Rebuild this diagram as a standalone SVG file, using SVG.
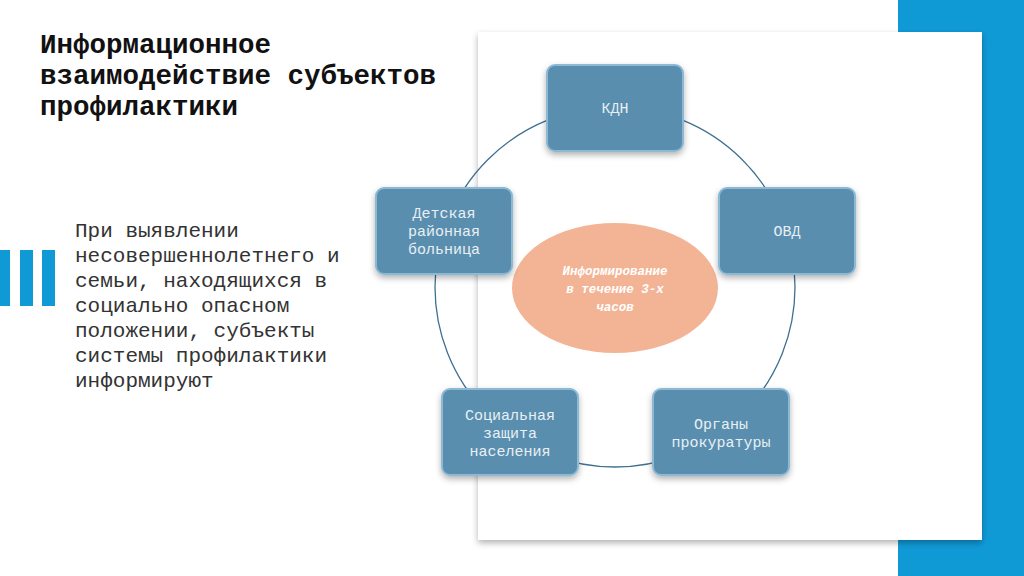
<svg xmlns="http://www.w3.org/2000/svg" width="1024" height="576" viewBox="0 0 1024 576">
<defs>
<filter id="sh" x="-20%" y="-20%" width="140%" height="140%"><feDropShadow dx="0" dy="3" stdDeviation="3" flood-color="#000" flood-opacity="0.3"/></filter>
<style>
.box{fill:#5a8eae;stroke:#8cbad5;stroke-width:2;filter:url(#sh)}
.bt{font-family:"Liberation Mono",monospace;font-size:15px;fill:#e8f0f5;text-anchor:middle}
.body{font-family:"Liberation Mono",monospace;font-size:21px;fill:#333}
</style>
</defs>
<rect width="1024" height="576" fill="#fff"/>
<rect x="898" y="0" width="126" height="576" fill="#0f9ad6"/>
<rect x="478" y="32" width="504" height="508" fill="#fff" filter="url(#sh)"/>
<g fill="#0f9ad6"><rect x="0" y="250" width="10" height="56"/><rect x="20" y="250" width="13" height="56"/><rect x="42" y="250" width="13" height="56"/></g>
<text font-family="Liberation Mono,monospace" font-weight="bold" font-size="27.5" fill="#111"><tspan x="40" y="53">Информационное</tspan><tspan x="40" y="84">взаимодействие  субъектов</tspan><tspan x="40" y="115">профилактики</tspan></text>
<text class="body"><tspan x="75" y="237">При выявлении</tspan><tspan x="75" y="262">несовершеннолетнего и</tspan><tspan x="75" y="287">семьи, находящихся в</tspan><tspan x="75" y="312">социально опасном</tspan><tspan x="75" y="337">положении, субъекты</tspan><tspan x="75" y="362">системы профилактики</tspan><tspan x="75" y="387">информируют</tspan></text>
<g id="connectors"><circle cx="615" cy="287" r="180" fill="none" stroke="#3f6f8f" stroke-width="1.3"/></g>
<g id="center"><ellipse cx="615" cy="288" rx="103" ry="65" fill="#f2b495"/>
<text font-family="Liberation Mono,monospace" font-style="italic" font-weight="bold" font-size="12.5" fill="#fff" text-anchor="middle"><tspan x="615" y="275">Информирование</tspan><tspan x="615" y="293">в течение 3-х</tspan><tspan x="615" y="311">часов</tspan></text></g>
<g id="kdn"><rect class="box" x="547" y="65" width="136" height="86" rx="8"/><text class="bt" x="615" y="113">КДН</text></g>
<g id="ovd"><rect class="box" x="719" y="188" width="136" height="86" rx="8"/><text class="bt" x="787" y="236">ОВД</text></g>
<g id="hosp"><rect class="box" x="376" y="188" width="136" height="86" rx="8"/><text class="bt"><tspan x="444" y="218">Детская</tspan><tspan x="444" y="236">районная</tspan><tspan x="444" y="254">больница</tspan></text></g>
<g id="soc"><rect class="box" x="442" y="389" width="136" height="86" rx="8"/><text class="bt"><tspan x="510" y="420">Социальная</tspan><tspan x="510" y="438">защита</tspan><tspan x="510" y="456">населения</tspan></text></g>
<g id="prok"><rect class="box" x="653" y="389" width="136" height="86" rx="8"/><text class="bt"><tspan x="721" y="429">Органы</tspan><tspan x="721" y="447">прокуратуры</tspan></text></g>
</svg>
